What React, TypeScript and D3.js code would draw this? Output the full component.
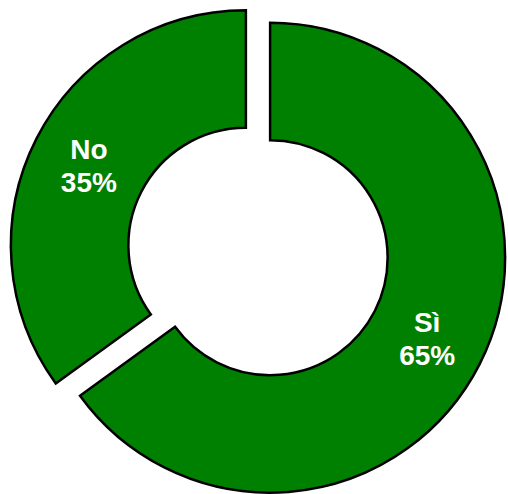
import React from "react";
import * as d3 from "d3";

const categories = ["Sì", "No"];
const values = [65, 35];
const percentLabels = ["65%", "35%"];

const W = 508;
const H = 494;
const CX = 258;
const CY = 251.5;
const R = 235;
const RI = 117.5;
const EXPLODE = 13.6;

export default function App() {
  const pie = d3
    .pie<number>()
    .sort(null)
    .startAngle(0)
    .endAngle(2 * Math.PI)
    .value((d) => d);
  const arcs = pie(values);
  const arc = d3.arc<d3.PieArcDatum<number>>().innerRadius(RI).outerRadius(R);

  return (
    <svg
      width={W}
      height={H}
      style={{ position: "absolute", left: 0, top: 0, background: "#fff" }}
    >
      {arcs.map((a, i) => {
        const mid = (a.startAngle + a.endAngle) / 2;
        const dx = Math.sin(mid) * EXPLODE;
        const dy = -Math.cos(mid) * EXPLODE;
        const [lx, ly] = arc.centroid(a);
        return (
          <g key={categories[i]} transform={`translate(${CX + dx},${CY + dy})`}>
            <path d={arc(a) || ""} fill="#008000" stroke="#000" strokeWidth={2.5} strokeLinejoin="miter" />
            <text
              textAnchor="middle"
              fill="#fff"
              fontFamily="'Liberation Sans', Arial, sans-serif"
              fontWeight="bold"
              fontSize={28}
            >
              <tspan x={lx} y={ly - 6}>{categories[i]}</tspan>
              <tspan x={lx} y={ly + 27}>{percentLabels[i]}</tspan>
            </text>
          </g>
        );
      })}
    </svg>
  );
}
